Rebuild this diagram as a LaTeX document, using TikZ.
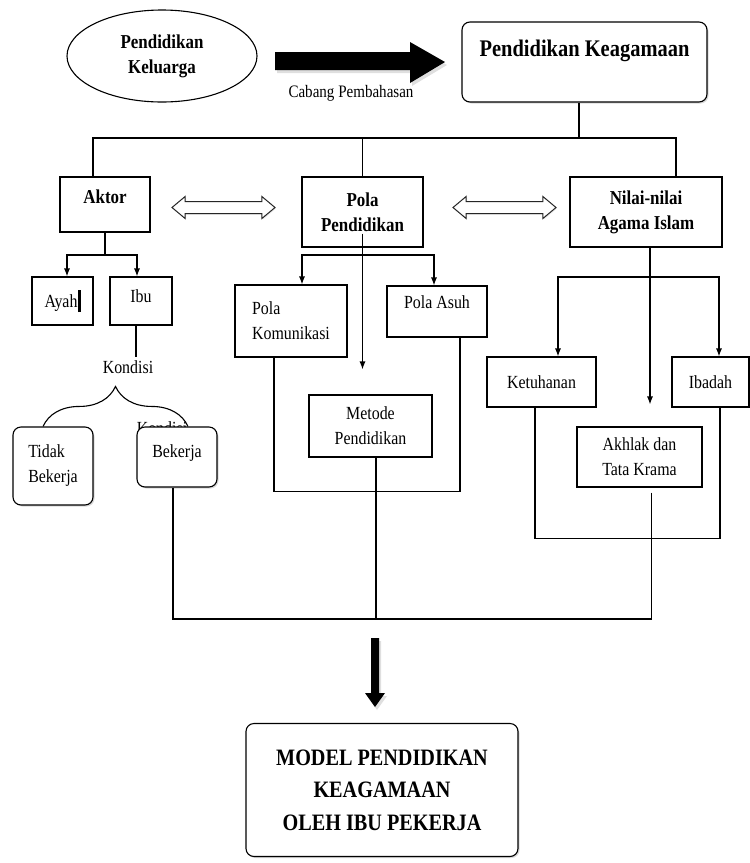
\documentclass[tikz,border=0pt]{standalone}
\usepackage{fontspec}
\setmainfont{Liberation Serif}[FakeStretch=0.86]
\usetikzlibrary{shapes,arrows,arrows.meta,positioning,calc,decorations.pathreplacing,shadows}

\begin{document}
\begin{tikzpicture}[
    x=1pt, y=-1pt,
    line width=1.1pt,
    box/.style={rectangle, draw, fill=white, align=center, font=\fontsize{18.5}{25}\selectfont},
    headbox/.style={rectangle, draw, fill=white, align=center, font=\fontsize{19.7}{25}\selectfont\bfseries},
    softbox/.style={box, rounded corners=8pt, drop shadow={shadow xshift=1.5pt, shadow yshift=-1.5pt, opacity=.3}},
    fork/.style={-{Latex[length=8pt,width=6pt]}},
    bigarrow/.style={fill=black, drop shadow={shadow xshift=2pt, shadow yshift=-3pt, opacity=.25}},
    twoway/.style={double arrow, draw=black!85, fill=white, line width=1pt, inner sep=0pt, inner ysep=5.5pt, double arrow head extend=5pt, double arrow tip angle=80, drop shadow={shadow xshift=1pt, shadow yshift=-1pt, opacity=.2}}
]
\useasboundingbox (0,0) rectangle (750,863);

\node[ellipse, draw, fill=white, minimum width=190pt, minimum height=92pt, align=center, font=\fontsize{19.7}{25}\selectfont\bfseries] (keluarga) at (162,56) {Pendidikan\\Keluarga};
\fill[bigarrow] (275,52) -- (410,52) -- (410,42) -- (445,62) -- (410,83) -- (410,70) -- (275,70) -- cycle;
\node[font=\fontsize{17.5}{20}\selectfont] (cabanglabel) at (351,93) {Cabang Pembahasan};
\node[softbox, minimum width=245pt, minimum height=80pt, font=\fontsize{23.8}{28}\selectfont\bfseries, text height=16.5pt, text depth=28.5pt, inner ysep=17.5pt] (keagamaan) at (584.5,62) {Pendidikan Keagamaan};

\node[headbox, minimum width=90pt, minimum height=55pt, text depth=16pt] (aktor) at (105,204.5) {Aktor};
\node[headbox, minimum width=121pt, minimum height=70pt] (pola) at (362.5,212) {Pola\\Pendidikan};
\node[headbox, minimum width=152pt, minimum height=70pt] (nilai) at (646,212) {Nilai-nilai\\Agama Islam};
\node[twoway, minimum height=103pt] (aktorpola) at (223.5,207.5) {};
\node[twoway, minimum height=103pt] (polanilai) at (504.5,207.5) {};

\node[box, minimum width=61pt, minimum height=48pt, text depth=5pt] (ayah) at (62.5,301) {Ayah\rule[-5pt]{3pt}{22pt}};
\node[box, minimum width=62pt, minimum height=48pt, text depth=10.5pt] (ibu) at (141,301) {Ibu};
\node[font=\fontsize{18.5}{22}\selectfont] (kondisi) at (128,367) {Kondisi};
\node[font=\fontsize{18.5}{22}\selectfont, anchor=base] (kondisitutup) at (162,434) {Kondisi};
\node[softbox, minimum width=80pt, minimum height=78pt, align=left] (tidak) at (53,466) {Tidak\\Bekerja};
\node[softbox, minimum width=80pt, minimum height=60pt, text depth=12.5pt] (bekerja) at (177,457) {Bekerja};

\node[box, minimum width=112pt, minimum height=72pt, align=left] (komunikasi) at (291,321) {Pola\\Komunikasi};
\node[box, minimum width=100pt, minimum height=51pt, text depth=19pt] (asuh) at (437,311.5) {Pola Asuh};
\node[box, minimum width=123pt, minimum height=62pt] (metode) at (370.5,426) {Metode\\Pendidikan};

\node[box, minimum width=109pt, minimum height=50pt] (ketuhanan) at (541.5,382) {Ketuhanan};
\node[box, minimum width=77pt, minimum height=50pt] (ibadah) at (710.5,382) {Ibadah};
\node[box, minimum width=125pt, minimum height=60pt] (akhlak) at (639.5,457) {Akhlak dan\\Tata Krama};

\fill[bigarrow] (371,638) -- (379,638) -- (379,693) -- (385,693) -- (375,707) -- (365,693) -- (371,693) -- cycle;
\node[softbox, minimum width=272pt, minimum height=133pt, font=\fontsize{23.5}{32.5}\selectfont\bfseries] (model) at (382,790) {MODEL PENDIDIKAN\\KEAGAMAAN\\OLEH IBU PEKERJA};

\coordinate (busL) at (93,138);
\coordinate (busR) at (676,138);
\draw ([xshift=-5.5pt]keagamaan.south) -- ([xshift=-5.5pt]keagamaan.south |- busL);
\draw (busL |- aktor.north) -- (busL) -- (busR) -- (busR |- nilai.north);
\draw (pola.north) -- (pola.north |- busL);

\coordinate (aktorsplit) at (105,255);
\draw (aktor.south) -- (aktorsplit);
\draw[fork] (aktorsplit) -| ([xshift=4.5pt]ayah.north);
\draw[fork] (aktorsplit) -| ([xshift=-4pt]ibu.north);
\draw ([xshift=-5pt]ibu.south) -- ([xshift=-5pt]ibu.south |- kondisi.north);
\draw[decorate, decoration={brace, amplitude=40pt}] ([xshift=-10pt]tidak.north) -- ([xshift=11pt]bekerja.north);

\coordinate (polasplit) at (362.5,255);
\draw[fork, shorten >=25pt] ([yshift=14pt]pola.south) -- (pola.south |- metode.north);
\draw[fork] (polasplit) -| ([xshift=11pt]komunikasi.north);
\draw[fork] (polasplit) -| ([xshift=-3pt]asuh.north);
\draw ([xshift=-17pt]komunikasi.south) -- ++(0,134) -| ([xshift=23pt]asuh.south);

\coordinate (nilaisplit) at (650,277);
\draw[fork, shorten >=22pt] ([xshift=4pt]nilai.south) -- ([xshift=4pt]nilai.south |- akhlak.north);
\draw[fork] (nilaisplit) -| ([xshift=16.5pt]ketuhanan.north);
\draw[fork] (nilaisplit) -| ([xshift=8.5pt]ibadah.north);
\draw ([xshift=-6.5pt]ketuhanan.south) -- ++(0,131) -| ([xshift=9.5pt]ibadah.south);

\coordinate (busB) at (377,619);
\draw ([xshift=-4pt]bekerja.south) |- (busB);
\draw ([xshift=5.5pt]metode.south) -- ([xshift=5.5pt]metode.south |- busB);
\draw[shorten <=5pt] ([xshift=12pt]akhlak.south) |- (busB);

\end{tikzpicture}
\end{document}
